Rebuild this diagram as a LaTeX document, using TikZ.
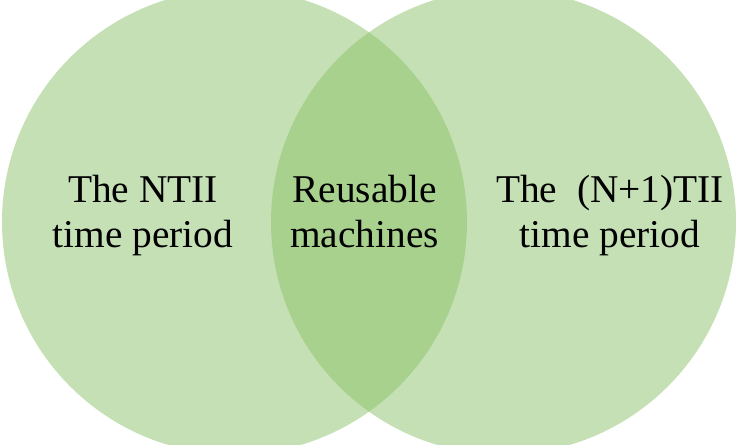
\documentclass[tikz,border=0pt]{standalone}
\usepackage{fontspec}
\setmainfont{Liberation Serif}
\usepackage{tikz}
\usetikzlibrary{positioning}
\usepackage{xcolor}
\definecolor{setgreen}{RGB}{197,224,180}
\definecolor{overlapgreen}{RGB}{168,209,142}

\begin{document}
\begin{tikzpicture}[
    setlabel/.style={align=center,inner sep=0pt,
      font=\fontsize{22.4pt}{25.3pt}\selectfont}]
        \def\rr{4.65}
        \useasboundingbox (0,0) rectangle (14.8,8.9);
        \coordinate (cl) at (4.69,4.46);
        \coordinate (cr) at (10.07,4.46);
        \fill[setgreen] (cl) circle (\rr);
        \fill[setgreen] (cr) circle (\rr);
        \begin{scope}
          \clip (cl) circle (\rr);
          \fill[overlapgreen] (cr) circle (\rr);
        \end{scope}
        \foreach \k/\x/\y/\l in {nt/2.86/4.59/{The NTII\\time period},
                                 reuse/7.29/4.67/{Reusable\\machines},
                                 np/12.20/4.59/{The\ \ (N+1)TII\\time period}}
          \node[setlabel] (\k) at (\x,\y) {\l};
      \end{tikzpicture}
\end{document}
